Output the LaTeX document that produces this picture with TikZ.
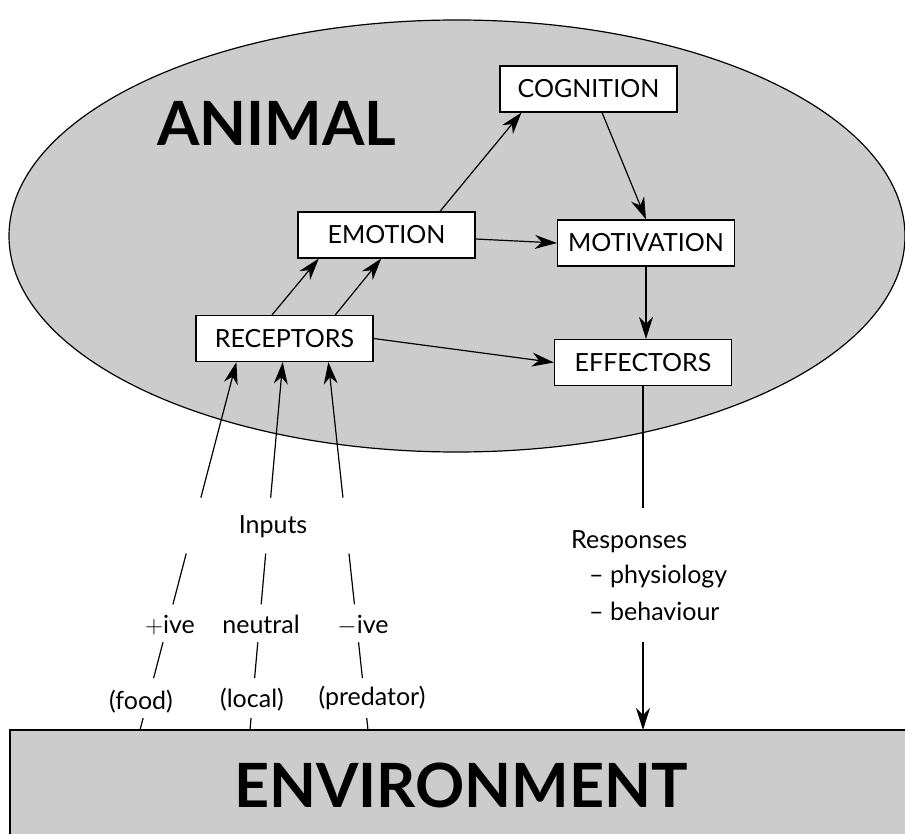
\documentclass[tikz,border=0pt]{standalone}
\usepackage{fontspec}
\setmainfont{Lato}
\usetikzlibrary{arrows.meta,calc,shapes.geometric}
\definecolor{shade}{HTML}{CCCCCC}
\tikzset{
  box/.style={draw, fill=white, line width=1.2pt, minimum width=177pt, minimum height=46pt, inner sep=0pt, font=\fontsize{25}{29}\selectfont},
  lbl/.style={inner sep=0pt, anchor=base, font=\fontsize{25}{29}\selectfont},
  big/.style={inner sep=0pt, anchor=base, font=\fontsize{61}{70}\selectfont\bfseries},
  conn/.style={line width=1.2pt},
  arr/.style={conn, -{Stealth[length=22pt, width=14pt, inset=7pt]}}
}
\begin{document}
\begin{tikzpicture}[x=1pt, y=-1pt]
\useasboundingbox (0,0) rectangle (905,834);
% shapes
\node[draw, fill=shade, line width=1.2pt, ellipse, minimum width=896pt, minimum height=432pt, inner sep=0pt] (animal) at (457,236) {};
\draw[fill=shade, line width=1.2pt] (10,730) rectangle (915,845);
\node[big, anchor=base west] (animallbl) at (157,146) {ANIMAL};
\node[big] (envlbl) at (461,807) {ENVIRONMENT};
% boxes
\node[box] (cog) at (588.5,89) {COGNITION};
\node[box] (emo) at (386.5,235) {EMOTION};
\node[box] (mot) at (646,243) {MOTIVATION};
\node[box] (rec) at (284.5,338.5) {RECEPTORS};
\node[box] (eff) at (643,362.5) {EFFECTORS};
% internal connectors
\draw[arr] ($(emo.north west)!0.80!(emo.north east)$) -- ($(cog.south west)!0.124!(cog.south east)$);
\draw[arr] ($(cog.south west)!0.576!(cog.south east)$) -- (mot.north);
\draw[arr] ([yshift=-4pt]emo.east) -- (mot.west);
\draw[arr] (mot.south) -- (mot.south |- eff.north);
\draw[arr] ($(rec.north west)!0.43!(rec.north east)$) -- ($(emo.south west)!0.12!(emo.south east)$);
\draw[arr] ($(rec.north west)!0.785!(rec.north east)$) -- ($(emo.south west)!0.47!(emo.south east)$);
\draw[arr] (rec.east) -- (eff.west);
% inputs
\coordinate (f1) at (140,730);
\coordinate (f2) at (250,730);
\coordinate (f3) at (368,730);
\coordinate (r1) at ($(rec.south west)!0.23!(rec.south east)$);
\coordinate (r2) at ($(rec.south west)!0.49!(rec.south east)$);
\coordinate (r3) at ($(rec.south west)!0.746!(rec.south east)$);
\foreach \f/\r in {f1/r1, f2/r2, f3/r3}{
  \draw[conn] (\f) -- ($(\f)!0.0325!(\r)$);
  \draw[conn] ($(\f)!0.141!(\r)$) -- ($(\f)!0.2385!(\r)$);
  \draw[conn] ($(\f)!0.3415!(\r)$) -- ($(\f)!0.4797!(\r)$);
  \draw[arr] ($(\f)!0.6314!(\r)$) -- (\r);
}
\node[lbl] (inputs) at (273,533) {Inputs};
\node[lbl] (pos) at (170,633) {$+$ive};
\node[lbl] (neu) at (261,633) {neutral};
\node[lbl] (neg) at (363,633) {$-$ive};
\node[lbl] (food) at (141,709) {(food)};
\node[lbl] (local) at (252,707) {(local)};
\node[lbl] (pred) at (372,705) {(predator)};
% responses
\coordinate (effend) at (eff.south |- 0,508);
\draw[conn] (eff.south) -- (effend);
\node[lbl, anchor=base west] (resp) at (571,548) {Responses};
\node[lbl, anchor=base west] (phys) at (589,583) {– physiology};
\node[lbl, anchor=base west] (beh) at (589,620) {– behaviour};
\coordinate (respstart) at (eff.south |- 0,642);
\draw[arr] (respstart) -- (eff.south |- 0,730);
\end{tikzpicture}
\end{document}
